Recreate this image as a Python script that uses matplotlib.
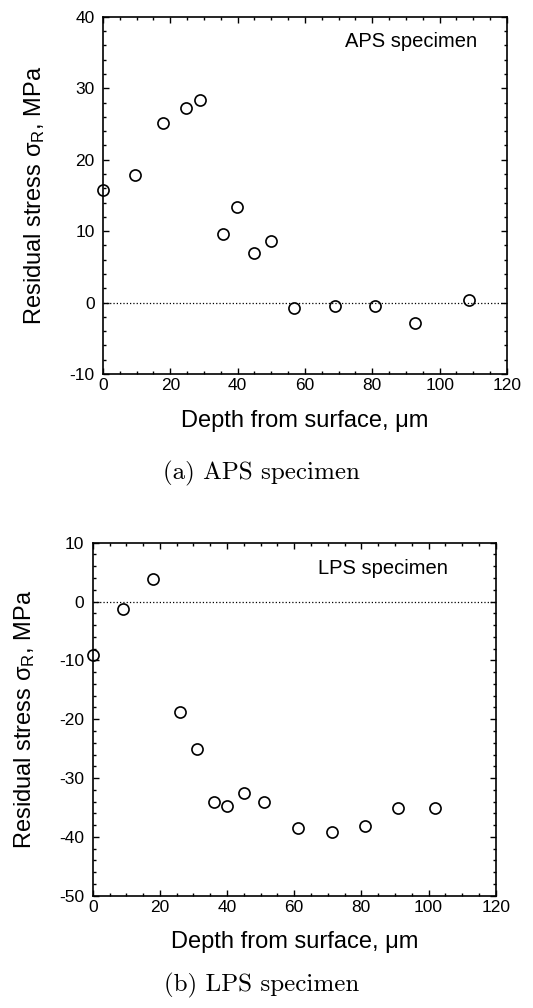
import numpy as np
import matplotlib.pyplot as plt
from matplotlib.ticker import MultipleLocator

# data
aps_depth = [0, 9.5, 17.7, 24.7, 28.9, 35.7, 39.7, 44.8, 50.0, 56.7, 68.8, 80.8, 92.8, 108.6]
aps_stress = [15.8, 17.9, 25.1, 27.2, 28.3, 9.6, 13.4, 6.9, 8.6, -0.8, -0.5, -0.5, -2.8, 0.4]

lps_depth = [0, 8.9, 17.9, 26.1, 31.0, 36.1, 40.1, 45.1, 51.1, 61.1, 71.3, 81.2, 90.9, 101.9]
lps_stress = [-9.1, -1.3, 3.9, -18.8, -25.1, -34.1, -34.7, -32.5, -34.1, -38.5, -39.1, -38.2, -35.1, -35.1]

plt.rcParams['font.family'] = ['Liberation Sans', 'DejaVu Sans']
plt.rcParams['mathtext.fontset'] = 'custom'
plt.rcParams['mathtext.rm'] = 'Liberation Sans'
plt.rcParams['mathtext.it'] = 'Liberation Sans'
plt.rcParams['axes.unicode_minus'] = False

fig = plt.figure(figsize=(5.33, 10.08), dpi=100)
ax1 = fig.add_axes([0.1932, 0.629, 0.758, 0.3542])
ax2 = fig.add_axes([0.174, 0.1114, 0.756, 0.3502])


def style(ax, ylim):
    ax.set_xlim(0, 120)
    ax.set_ylim(*ylim)
    ax.xaxis.set_major_locator(MultipleLocator(20))
    ax.xaxis.set_minor_locator(MultipleLocator(5))
    ax.yaxis.set_major_locator(MultipleLocator(10))
    ax.yaxis.set_minor_locator(MultipleLocator(2))
    ax.tick_params(which='both', direction='in', top=True, right=True, width=1.0)
    ax.tick_params(which='major', length=4)
    ax.tick_params(which='minor', length=2.2)
    ax.tick_params(axis='x', labelsize=12.5, pad=3)
    ax.tick_params(axis='y', labelsize=12.5, pad=6)
    for s in ax.spines.values():
        s.set_linewidth(1.2)
    ax.axhline(0, color='black', ls=':', lw=0.9)
    ax.set_xlabel('Depth from surface, \u03bcm', fontsize=17)
    ax.set_ylabel('Residual stress \u03c3$_\\mathrm{R}$, MPa', fontsize=17)
    ax.xaxis.set_label_coords(0.5, -0.10)
    ax.yaxis.set_label_coords(-0.138, 0.5)


style(ax1, (-10, 40))
ax1.plot(aps_depth, aps_stress, 'o', mfc='none', mec='black', ms=8, mew=1.2, clip_on=False)
ax1.text(0.926, 0.93, 'APS specimen', transform=ax1.transAxes, ha='right', va='center', fontsize=14.5)

style(ax2, (-50, 10))
ax2.plot(lps_depth, lps_stress, 'o', mfc='none', mec='black', ms=8, mew=1.2, clip_on=False)
ax2.text(0.882, 0.928, 'LPS specimen', transform=ax2.transAxes, ha='right', va='center', fontsize=14.5)

fig.text(0.49, 1 - 473 / 1008, '(a) APS specimen', family='cmr10', fontsize=18, ha='center', va='center')
fig.text(0.49, 1 - 985 / 1008, '(b) LPS specimen', family='cmr10', fontsize=18, ha='center', va='center')

fig.savefig('out.png', dpi=100)
